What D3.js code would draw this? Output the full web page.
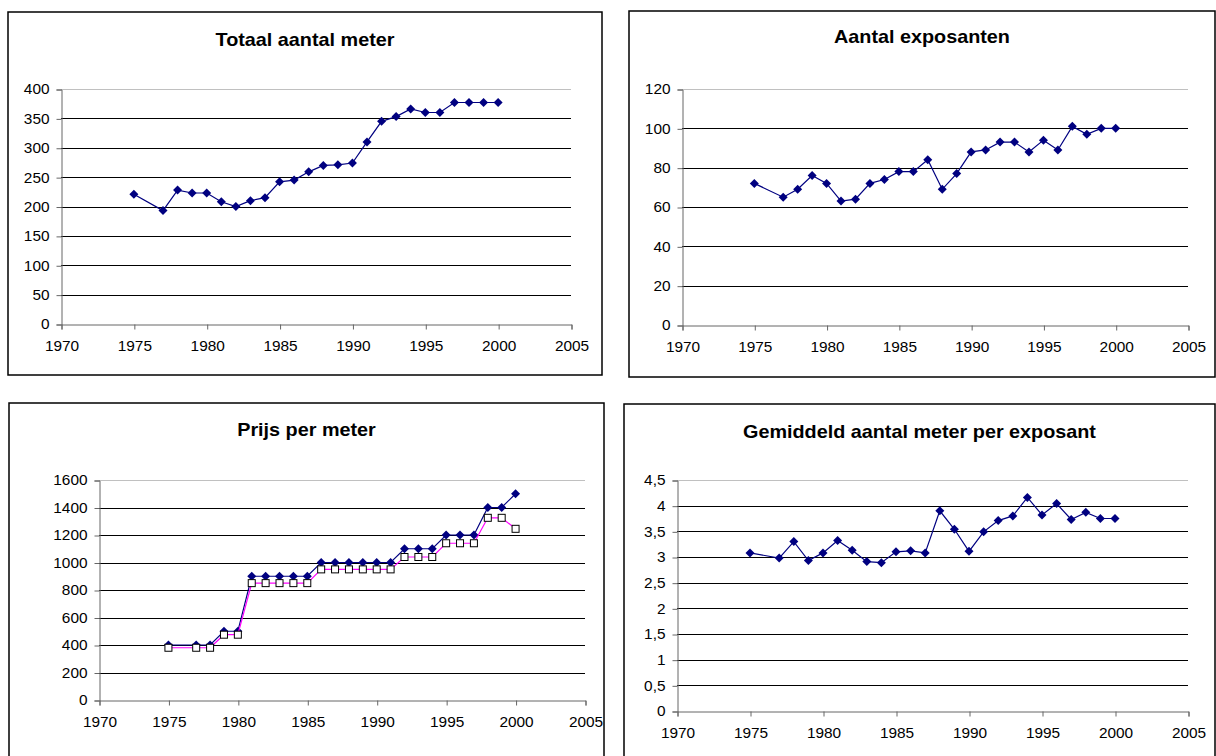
<!DOCTYPE html>
<html>
<head>
<meta charset="utf-8">
<script src="https://cdn.jsdelivr.net/npm/d3@7"></script>
<style>
  html, body { margin: 0; padding: 0; background: #fff; }
  svg { display: block; }
  text { font-family: "Liberation Sans", Arial, sans-serif; fill: #000; }
</style>
</head>
<body>
<svg id="chart" width="1216" height="756"></svg>
<script>
// ---- data ----
const years = [1975, 1977, 1978, 1979, 1980, 1981, 1982, 1983, 1984, 1985, 1986, 1987, 1988,
               1989, 1990, 1991, 1992, 1993, 1994, 1995, 1996, 1997, 1998, 1999, 2000];

const totaalMeter = [221, 193, 228, 223, 223, 208, 200, 210, 215, 242, 245, 259, 270,
                     271, 274, 310, 345, 353, 366, 360, 360, 377, 377, 377, 377];

const aantalExposanten = [72, 65, 69, 76, 72, 63, 64, 72, 74, 78, 78, 84, 69,
                          77, 88, 89, 93, 93, 88, 94, 89, 101, 97, 100, 100];

const prijsPerMeter = [400, 400, 400, 500, 500, 900, 900, 900, 900, 900, 1000, 1000, 1000,
                       1000, 1000, 1000, 1100, 1100, 1100, 1200, 1200, 1200, 1400, 1400, 1500];

const prijsPerMeter2 = [380, 380, 380, 475, 475, 850, 850, 850, 850, 850, 950, 950, 950,
                        950, 950, 950, 1040, 1040, 1040, 1140, 1140, 1140, 1325, 1325, 1245];

const gemiddeldMeter = [3.08, 2.98, 3.30, 2.93, 3.08, 3.32, 3.13, 2.91, 2.89, 3.10, 3.12, 3.08, 3.90,
                        3.54, 3.11, 3.49, 3.71, 3.80, 4.16, 3.82, 4.04, 3.73, 3.87, 3.75, 3.75];

const xTicks = [1970, 1975, 1980, 1985, 1990, 1995, 2000, 2005];
const yTicks1 = [0, 50, 100, 150, 200, 250, 300, 350, 400];
const yTicks2 = [0, 20, 40, 60, 80, 100, 120];
const yTicks3 = [0, 200, 400, 600, 800, 1000, 1200, 1400, 1600];
const yTicks4 = [0, 0.5, 1, 1.5, 2, 2.5, 3, 3.5, 4, 4.5];

const titles = ["Totaal aantal meter", "Aantal exposanten", "Prijs per meter",
                "Gemiddeld aantal meter per exposant"];

// ---- layout ----
const svg = d3.select("#chart");
const NAVY = "#000080";
const SX = 1.1; // horizontal stretch of the original's text

const panels = [
  { title: titles[0], box: [8, 12, 602, 375], plot: [61, 89, 571, 324], titleY: 46,
    yTicks: yTicks1, series: [{ values: totaalMeter, type: "diamond" }] },
  { title: titles[1], box: [629, 11, 1215, 377], plot: [682, 89, 1188, 325], titleY: 43,
    yTicks: yTicks2, series: [{ values: aantalExposanten, type: "diamond" }] },
  { title: titles[2], box: [9, 403, 604, 760], plot: [99, 480, 585, 700], titleY: 436,
    yTicks: yTicks3, series: [{ values: prijsPerMeter, type: "diamond" },
                              { values: prijsPerMeter2, type: "square" }] },
  { title: titles[3], box: [624, 404, 1215, 760], plot: [677, 480, 1188, 711], titleY: 438,
    yTicks: yTicks4, comma: true, series: [{ values: gemiddeldMeter, type: "diamond" }] }
];

const fmtComma = v => String(v).replace(".", ",");

function stretchTexts(sel) {
  sel.selectAll("text").each(function () {
    const t = d3.select(this);
    const x0 = +t.attr("x") || 0;
    t.attr("x", x0 / SX).attr("transform", `scale(${SX},1)`)
      .attr("font-size", 14).attr("font-family", "Liberation Sans, Arial, sans-serif");
  });
}

panels.forEach(p => {
  const g = svg.append("g");
  const [bx0, by0, bx1, by1] = p.box;
  g.append("rect").attr("x", bx0).attr("y", by0).attr("width", bx1 - bx0).attr("height", by1 - by0)
    .attr("fill", "#fff").attr("stroke", "#000").attr("stroke-width", 1.5);

  g.append("text").attr("transform", `translate(${(bx0 + bx1) / 2},${p.titleY}) scale(${SX},1)`)
    .attr("text-anchor", "middle").attr("font-size", 18).attr("font-weight", "bold")
    .text(p.title);

  const [px0, pyTop, px1, pyBot] = p.plot;
  const x = d3.scaleLinear().domain([1970, 2005]).range([px0, px1]);
  const yMax = p.yTicks[p.yTicks.length - 1];
  const y = d3.scaleLinear().domain([0, yMax]).range([pyBot, pyTop]);

  // gridlines
  g.append("g").selectAll("line").data(p.yTicks.filter(t => t > 0)).join("line")
    .attr("x1", px0).attr("x2", px1)
    .attr("y1", d => Math.round(y(d)) + 0.5).attr("y2", d => Math.round(y(d)) + 0.5)
    .attr("stroke", d => d === yMax ? "#c0c0c0" : "#000").attr("stroke-width", 1);

  // y axis
  const yAxis = d3.axisLeft(y).tickValues(p.yTicks).tickSize(5).tickPadding(7)
    .tickFormat(p.comma ? fmtComma : d3.format("d"));
  const ya = g.append("g").attr("transform", `translate(${px0 + 0.5},0.5)`).call(yAxis);
  stretchTexts(ya);
  ya.select(".domain").attr("stroke", "#666");
  ya.selectAll(".tick line").attr("stroke", "#666");

  // x axis
  const xAxis = d3.axisBottom(x).tickValues(xTicks).tickSize(5).tickPadding(12).tickFormat(d3.format("d"));
  const xa = g.append("g").attr("transform", `translate(0.5,${Math.round(pyBot) + 0.5})`).call(xAxis);
  stretchTexts(xa);
  xa.select(".domain").attr("stroke", "#666");
  xa.selectAll(".tick line").attr("stroke", "#666");

  // series
  p.series.forEach(s => {
    const pts = years.map((yr, i) => [yr, s.values[i]]);
    const line = d3.line().x(d => x(d[0])).y(d => y(d[1]));
    g.append("path").datum(pts).attr("d", line).attr("fill", "none")
      .attr("stroke", s.type === "square" ? "#ff00ff" : NAVY).attr("stroke-width", 1.2);
    if (s.type === "diamond") {
      g.append("g").selectAll("path").data(pts).join("path")
        .attr("transform", d => `translate(${x(d[0])},${y(d[1])})`)
        .attr("d", "M0,-4.5L4.5,0L0,4.5L-4.5,0Z").attr("fill", NAVY);
    } else {
      g.append("g").selectAll("rect").data(pts).join("rect")
        .attr("x", d => x(d[0]) - 3.5).attr("y", d => y(d[1]) - 3.5)
        .attr("width", 7).attr("height", 7).attr("fill", "#fff").attr("stroke", "#000").attr("stroke-width", 1);
    }
  });
});
</script>
</body>
</html>
